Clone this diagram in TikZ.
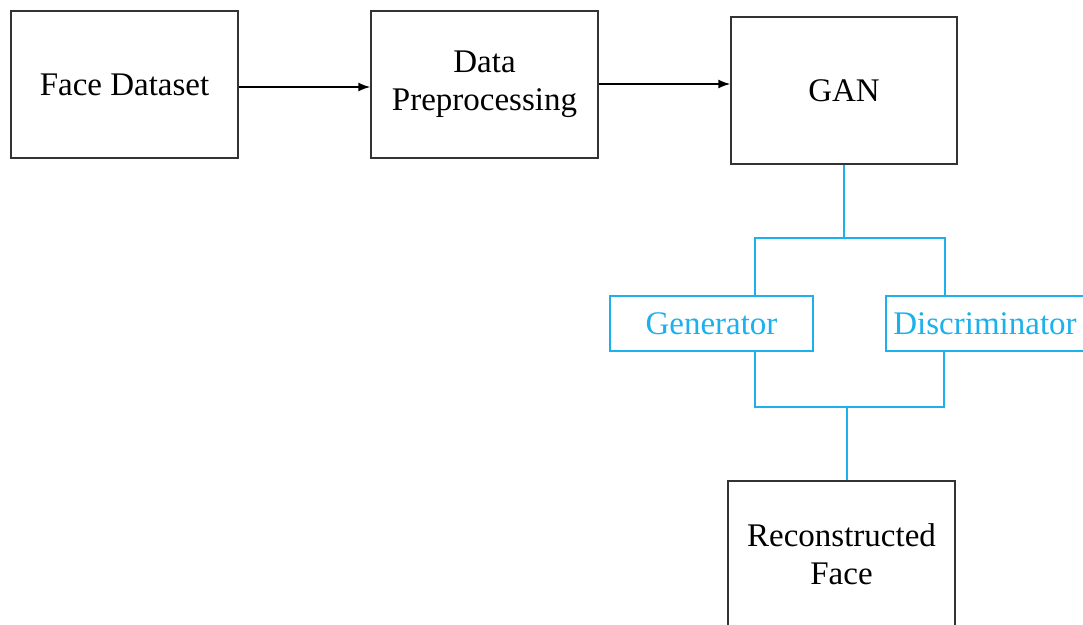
\documentclass[tikz,border=0pt]{standalone}
\usepackage{fontspec}
\setmainfont{Liberation Serif}
\usetikzlibrary{arrows.meta}
\definecolor{boxline}{HTML}{333333}
\definecolor{ganblue}{HTML}{1CB0EC}

\tikzset{
  block/.style={draw=boxline,line width=1.5pt,minimum width=227pt,minimum height=147pt,
    align=center,inner sep=0pt,font=\fontsize{33}{38}\selectfont},
  subblock/.style={draw=ganblue,line width=1.8pt,minimum height=55pt,inner sep=0pt,
    text=ganblue,font=\fontsize{33}{38}\selectfont},
  flow/.style={draw=black,line width=1.5pt,-{Latex[length=12pt,width=9pt]}},
  link/.style={draw=ganblue,line width=2pt}
}

\begin{document}
\begin{tikzpicture}[x=1pt,y=-1pt]
\useasboundingbox (0,0) rectangle (1083,624);

% pipeline boxes
\node[block] (dataset) at (124.5,84.5) {Face Dataset};
\node[block] (prep) at (484.5,84.5) {Data\\Preprocessing};
\node[block,minimum width=226pt] (gan) at (844,90.5) {GAN};

\draw[flow] (dataset.east |- 0,87) -- (prep.west |- 0,87);
\draw[flow] (prep.east |- 0,84) -- (gan.west |- 0,84);

% the two networks inside the GAN
\node[subblock,minimum width=203pt] (gen) at (711.5,323.5) {Generator};
\node[subblock,minimum width=198pt] (disc) at (985,323.5) {Discriminator};

\coordinate (splitL) at (755,238);
\coordinate (splitR) at (945,238);
\coordinate (joinL) at (755,407);
\coordinate (joinR) at (944,407);
\coordinate (join) at (847,407);

\draw[link] (gan.south) -- (gan.south |- splitL);
\draw[link] (gen.north -| splitL) -- (splitL) -- (splitR) -- (splitR |- disc.north);
\draw[link] (gen.south -| joinL) -- (joinL) -- (joinR) -- (joinR |- disc.south);

% output
\node[block] (recon) at (841.5,554.5) {Reconstructed\\Face};
\draw[link] (join) -- (join |- recon.north);
\end{tikzpicture}
\end{document}
